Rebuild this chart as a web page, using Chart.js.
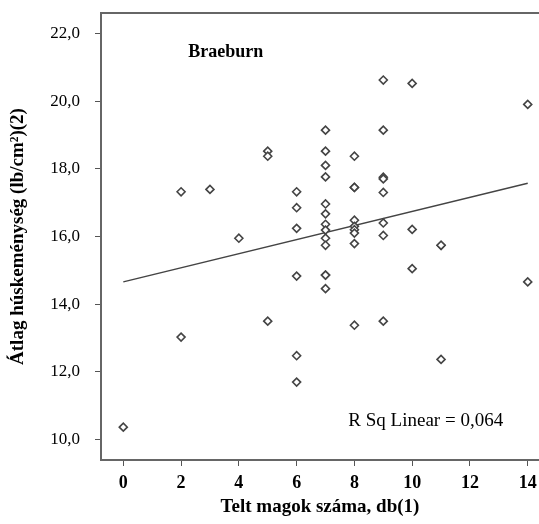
<!DOCTYPE html>
<html>
<head>
<meta charset="utf-8">
<script src="https://cdn.jsdelivr.net/npm/chart.js@4"></script>
<style>
  html, body { margin: 0; padding: 0; background: #fff; }
  #wrap { width: 539px; height: 524px; }
</style>
</head>
<body>
<div id="wrap"><canvas id="Braeburn"></canvas></div>
<script>
  // seeds (x) and mean firmness (y)
  const seeds = [
    0,
    2, 2,
    3,
    4,
    5, 5, 5,
    6, 6, 6, 6, 6, 6,
    7, 7, 7, 7, 7, 7, 7, 7, 7, 7, 7, 7, 7,
    8, 8, 8, 8, 8, 8, 8, 8, 8,
    9, 9, 9, 9, 9, 9, 9, 9,
    10, 10, 10,
    11, 11, 11,
    14, 14
  ];
  const firmness = [
    10.37,
    17.32, 13.03,
    17.39,
    15.95,
    18.52, 18.37, 13.50,
    17.32, 16.85, 16.24, 14.83, 12.48, 11.70,
    19.14, 18.52, 18.10, 17.76, 16.96, 16.67, 16.36, 16.19, 15.95, 15.74, 14.86, 14.86, 14.46,
    18.37, 17.45, 17.45, 16.48, 16.30, 16.20, 16.10, 15.79, 13.38,
    20.62, 19.14, 17.75, 17.70, 17.30, 16.40, 16.03, 13.50,
    20.52, 16.21, 15.05,
    15.74, 15.74, 12.37,
    19.90, 14.66
  ];
  // linear fit line ends
  const fitX = [0, 14];
  const fitY = [14.66, 17.57];

  const xTicks = [0, 2, 4, 6, 8, 10, 12, 14];
  const yTicks = [10, 12, 14, 16, 18, 20, 22];

  const title = 'Braeburn';
  const rsq = 'R Sq Linear = 0,064';

  const serif = '"Liberation Serif", "Times New Roman", serif';

  const points = seeds.map((s, i) => ({ x: s, y: firmness[i] }));
  const fit = fitX.map((s, i) => ({ x: s, y: fitY[i] }));

  // frame on top + text boxes inside the plot
  const extras = {
    id: 'extras',
    afterDraw(chart) {
      const ctx = chart.ctx;
      const a = chart.chartArea;
      const xs = chart.scales.x, ys = chart.scales.y;
      ctx.save();
      ctx.strokeStyle = '#666';
      ctx.lineWidth = 2;
      ctx.beginPath();
      ctx.moveTo(a.left - 1, a.top);
      ctx.lineTo(a.right, a.top);
      ctx.stroke();

      ctx.fillStyle = '#000';
      ctx.textAlign = 'center';
      ctx.textBaseline = 'middle';
      ctx.font = 'bold 18px ' + serif;
      ctx.fillText(title, xs.getPixelForValue(3.55), ys.getPixelForValue(21.45));
      ctx.font = '19px ' + serif;
      ctx.fillText(rsq, xs.getPixelForValue(10.47), ys.getPixelForValue(10.55));
      ctx.restore();
    }
  };

  const config = {
    type: 'scatter',
    data: {
      datasets: [{
        label: 'Braeburn',
        data: points,
        pointStyle: 'rectRot',
        pointRadius: 4,
        backgroundColor: '#fff',
        borderColor: '#444',
        borderWidth: 1.6,
        order: 1
      },
      {
        type: 'line',
        label: 'Linear',
        data: fit,
        borderColor: '#444',
        borderWidth: 1.5,
        pointRadius: 0,
        fill: false,
        order: 2
      }]
    },
    options: {
      responsive: true,
      maintainAspectRatio: false,
      animation: false,
      layout: { autoPadding: false, padding: { top: 13, right: 0, left: 0, bottom: 0 } },
      plugins: {
        legend: { display: false },
        tooltip: { enabled: false }
      },
      scales: {
        x: {
          type: 'linear',
          min: -0.772,
          max: 14.39,
          afterBuildTicks: s => { s.ticks = xTicks.map(v => ({ value: v })); },
          afterFit: s => { s.height = 64; s.paddingLeft = 0; s.paddingRight = 0; },
          grid: { drawOnChartArea: false, drawTicks: true, tickLength: 6, color: '#555' },
          border: { display: true, color: '#666', width: 2 },
          ticks: {
            color: '#000',
            padding: 7,
            maxRotation: 0,
            font: { family: serif, size: 18, weight: 'bold' }
          },
          title: {
            display: true,
            text: 'Telt magok száma, db(1)',
            color: '#000',
            font: { family: serif, size: 19, weight: 'bold' },
            padding: { top: 0, bottom: 6 }
          }
        },
        y: {
          min: 9.4,
          max: 22.6,
          afterBuildTicks: s => { s.ticks = yTicks.map(v => ({ value: v })); },
          afterFit: s => { s.width = 101; s.paddingTop = 0; s.paddingBottom = 0; },
          grid: { drawOnChartArea: false, drawTicks: true, tickLength: 6, color: '#555' },
          border: { display: true, color: '#666', width: 2 },
          ticks: {
            color: '#000',
            padding: 15,
            font: { family: serif, size: 17 },
            callback: v => v.toFixed(1).replace('.', ',')
          },
          title: {
            display: true,
            text: 'Átlag húskeménység (lb/cm²)(2)',
            color: '#000',
            font: { family: serif, size: 19, weight: 'bold' },
            padding: { top: 7, bottom: 0 }
          }
        }
      }
    },
    plugins: [extras]
  };

  const myChart = new Chart(document.getElementById('Braeburn'), config);
</script>
</body>
</html>
